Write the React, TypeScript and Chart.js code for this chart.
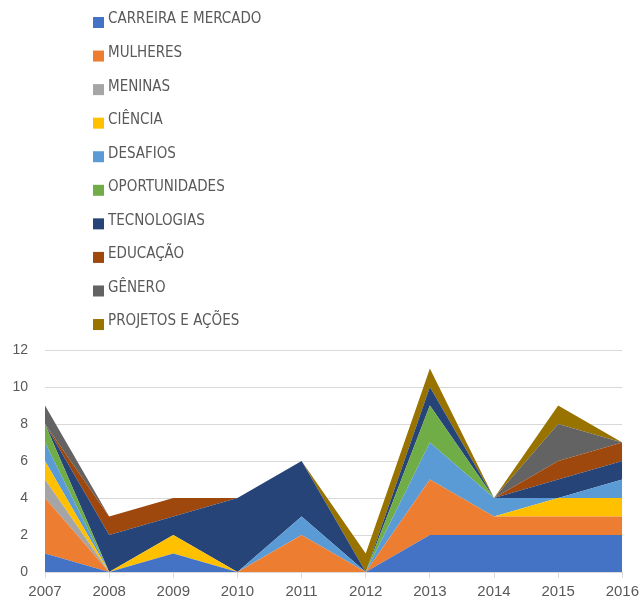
import React, { useEffect, useRef } from "react";
import { Chart, registerables } from "chart.js";

Chart.register(...registerables);

const years = ["2007", "2008", "2009", "2010", "2011", "2012", "2013", "2014", "2015", "2016"];
const seriesNames = [
  "CARREIRA E MERCADO",
  "MULHERES",
  "MENINAS",
  "CIÊNCIA",
  "DESAFIOS",
  "OPORTUNIDADES",
  "TECNOLOGIAS",
  "EDUCAÇÃO",
  "GÊNERO",
  "PROJETOS E AÇÕES",
];
const carreira = [1, 0, 1, 0, 0, 0, 2, 2, 2, 2];
const mulheres = [3, 0, 0, 0, 2, 0, 3, 1, 1, 1];
const meninas = [1, 0, 0, 0, 0, 0, 0, 0, 0, 0];
const ciencia = [1, 0, 1, 0, 0, 0, 0, 0, 1, 1];
const desafios = [1, 0, 0, 0, 1, 0, 2, 1, 0, 1];
const oportunidades = [1, 0, 0, 0, 0, 0, 2, 0, 0, 0];
const tecnologias = [0, 2, 1, 4, 3, 0, 1, 0, 1, 1];
const educacao = [0, 1, 1, 0, 0, 0, 0, 0, 1, 1];
const genero = [1, 0, 0, 0, 0, 0, 0, 0, 2, 0];
const projetos = [0, 0, 0, 0, 0, 1, 1, 0, 1, 0];
const seriesValues = [carreira, mulheres, meninas, ciencia, desafios, oportunidades, tecnologias, educacao, genero, projetos];
const colors = ["#4472C4", "#ED7D31", "#A5A5A5", "#FFC000", "#5B9BD5", "#70AD47", "#264478", "#9E480E", "#636363", "#997300"];
const yTicks = [0, 2, 4, 6, 8, 10, 12];

const FONT = "'Liberation Sans Narrow', 'DejaVu Sans Condensed', 'Liberation Sans', sans-serif";
const TEXT = "#595959";

const legendPlugin = {
  id: "columnLegend",
  afterDraw(chart: any) {
    const ctx = chart.ctx;
    ctx.save();
    ctx.font = `15px ${FONT}`;
    ctx.textBaseline = "middle";
    ctx.textAlign = "left";
    chart.data.datasets.forEach((ds: any, i: number) => {
      const cy = 19.5 + i * 33.56;
      ctx.fillStyle = ds.backgroundColor;
      ctx.fillRect(93, cy - 2.5, 11, 11);
      ctx.fillStyle = TEXT;
      ctx.fillText(ds.label, 108, cy);
    });
    ctx.restore();
  },
};

export default function App() {
  const ref = useRef<HTMLCanvasElement>(null);
  useEffect(() => {
    if (!ref.current) return;
    const chart = new Chart(ref.current, {
      type: "line",
      data: {
        labels: years,
        datasets: seriesNames.map((name, i) => ({
          label: name,
          data: seriesValues[i],
          backgroundColor: colors[i],
          borderColor: colors[i],
          borderWidth: 0,
          pointRadius: 0,
          tension: 0,
          fill: i === 0 ? "origin" : "-1",
        })),
      },
      options: {
        animation: false,
        responsive: true,
        maintainAspectRatio: false,
        layout: { padding: { top: 350, right: 19, left: 0, bottom: 0 } },
        plugins: { legend: { display: false }, tooltip: { enabled: false } },
        scales: {
          x: {
            type: "category",
            offset: false,
            grid: { display: true, drawOnChartArea: false, drawTicks: true, tickLength: 6, color: "#D9D9D9" },
            border: { display: true, color: "#D9D9D9" },
            ticks: { color: TEXT, font: { size: 15, family: "'Liberation Sans', sans-serif" }, padding: 5, maxRotation: 0 },
            afterFit: (s: any) => { s.height = 28; },
          },
          y: {
            stacked: true,
            min: 0,
            max: 12,
            afterBuildTicks: (s: any) => { s.ticks = yTicks.map((v) => ({ value: v })); },
            grid: { color: "#D9D9D9", drawTicks: false },
            border: { display: false },
            ticks: { color: TEXT, font: { size: 14, family: "'Liberation Sans', sans-serif" }, padding: 17 },
            afterFit: (s: any) => { s.width = 45; },
          },
        },
      },
      plugins: [legendPlugin],
    });
    return () => chart.destroy();
  }, []);
  return (
    <div style={{ position: "fixed", left: 0, top: 0, width: 644, height: 600, background: "#fff" }}>
      <canvas ref={ref} />
    </div>
  );
}
